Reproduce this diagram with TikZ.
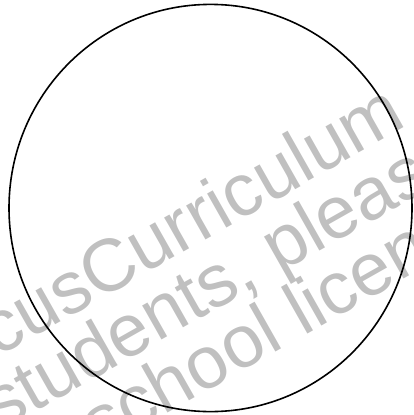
\documentclass[tikz,border=0pt]{standalone}
\usepackage{fontspec}
\setmainfont{Liberation Sans}
\definecolor{wm}{HTML}{C0C0C0}
\begin{document}
\begin{tikzpicture}[x=1pt,y=-1pt,
  wmark/.style={text=wm,font=\fontsize{74}{84}\selectfont,rotate=29.5,anchor=base west,inner sep=0pt},
  ring/.style={draw=black,line width=1.6pt}]
\useasboundingbox (0,0) rectangle (413,415);
\clip (0,0) rectangle (413,415);
\node[wmark] (w1) at (-3,358) {cusCurriculum};
\node[wmark] (w2) at (0,432) {students, pleas};
\node[wmark] (w3) at (99,452) {school licen};
\draw[ring] (210.5,208) ellipse [x radius=201.5, y radius=203.6];
\end{tikzpicture}
\end{document}
